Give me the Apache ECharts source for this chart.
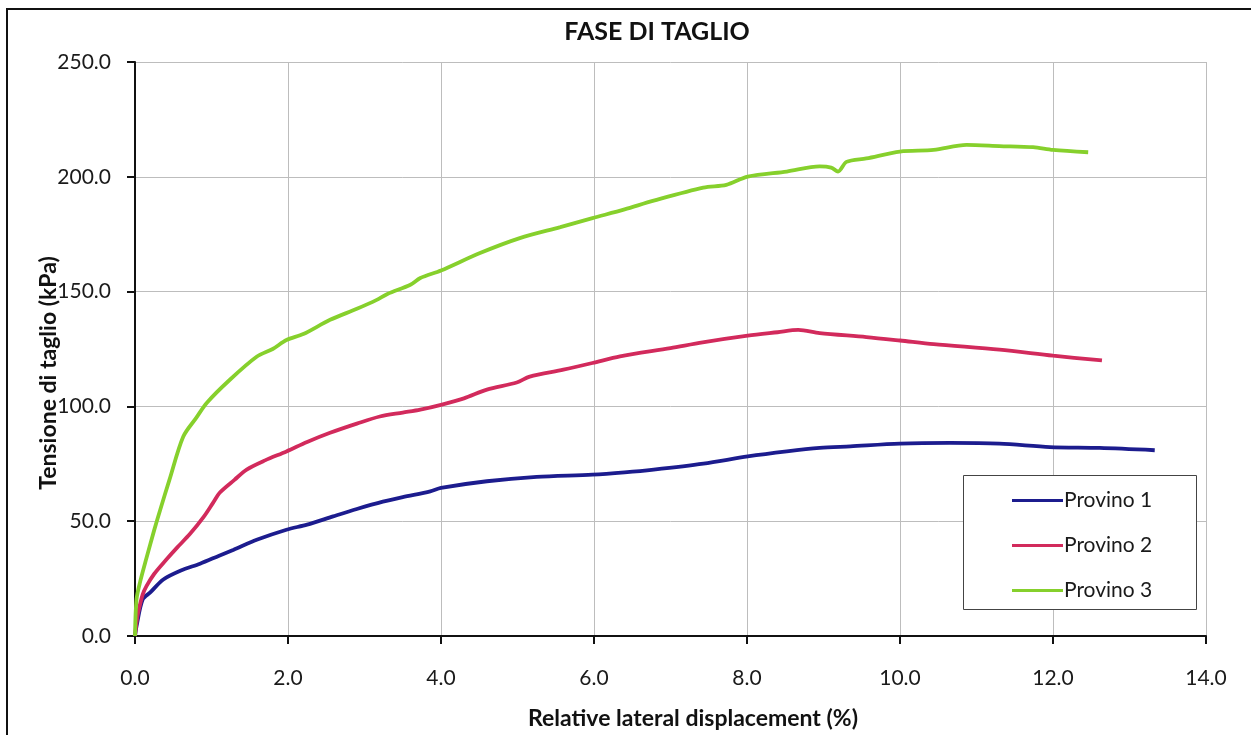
<!DOCTYPE html>
<html>
<head>
<meta charset="utf-8">
<script src="https://cdn.jsdelivr.net/npm/echarts@6/dist/echarts.min.js"></script>
<style>
html,body{margin:0;padding:0;background:#fff;}
#chart{width:1251px;height:735px;}
</style>
</head>
<body>
<div id="chart"></div>
<script>
const titleText = 'FASE DI TAGLIO';
const xAxisName = 'Relative lateral displacement (%)';
const yAxisName = 'Tensione di taglio (kPa)';
const seriesNames = ['Provino 1', 'Provino 2', 'Provino 3'];
const seriesColors = ['#1c1c8e', '#d22a5c', '#86d02c'];

const provino1 = [[0,0],[0.02,4.3],[0.1,15.9],[0.2,19],[0.37,24.6],[0.6,28.5],[0.85,31.5],[1.1,35],[1.29,37.6],[1.6,42],[1.98,46.3],[2.25,48.5],[2.59,52.1],[2.9,55.3],[3.24,58.5],[3.5,60.5],[3.86,63],[4.0,64.5],[4.6,67.4],[5.25,69.3],[5.98,70.3],[6.4,71.3],[6.78,72.5],[7.43,75.1],[8.01,78.2],[8.52,80.4],[8.95,81.9],[9.35,82.6],[10.0,83.8],[10.65,84.1],[11.3,83.8],[11.96,82.3],[12.61,81.9],[13.33,80.9]];

const provino2 = [[0,0],[0.02,6],[0.04,10],[0.1,18],[0.15,21.7],[0.25,27],[0.41,33.3],[0.55,38.5],[0.72,44.5],[0.9,52],[1.02,58],[1.11,62.5],[1.3,68],[1.46,72.5],[1.7,76.5],[1.98,80.4],[2.25,84.5],[2.55,88.5],[2.9,92.5],[3.2,95.6],[3.5,97.3],[3.73,98.6],[4.0,100.7],[4.3,103.5],[4.6,107.3],[4.99,110.4],[5.16,113],[5.6,116],[5.98,118.9],[6.34,121.8],[7.0,125.4],[7.42,127.9],[8.01,130.8],[8.4,132.3],[8.67,133.3],[8.95,131.9],[9.56,130.2],[10.0,128.7],[10.44,127.1],[11.3,124.7],[12.0,122.1],[12.64,120.0]];

const provino3 = [[0,0],[0.02,16],[0.07,24],[0.15,34],[0.25,46],[0.33,55],[0.45,68],[0.63,86.8],[0.8,95],[0.94,101.6],[1.24,111.6],[1.59,121.6],[1.8,125],[1.98,128.9],[2.2,131.5],[2.55,137.7],[2.9,142.5],[3.16,146.4],[3.3,149],[3.6,153],[3.73,155.9],[4.0,159.2],[4.51,166.8],[5.03,173.3],[5.56,178.1],[5.98,182],[6.4,185.8],[6.78,189.6],[7.43,195.3],[7.73,196.5],[8.01,200.1],[8.52,202.3],[8.95,204.5],[9.1,204],[9.19,202.3],[9.3,206.5],[9.56,208],[10.0,211],[10.44,211.7],[10.87,213.9],[11.3,213.4],[11.74,212.9],[12.0,211.7],[12.46,210.7]];

const seriesData = [provino1, provino2, provino3];

const FONT = 'Lato, "Open Sans", sans-serif';
const chart = echarts.init(document.getElementById('chart'), null, {renderer: 'canvas'});

const option = {
  backgroundColor: '#ffffff',
  animation: false,
  grid: {left: 135, top: 62, right: 45, bottom: 99, containLabel: false},
  xAxis: {
    type: 'value', min: 0, max: 14, interval: 2,
    axisLine: {show: true, onZero: false, lineStyle: {color: '#111', width: 2}},
    axisTick: {show: true, inside: false, length: 8, lineStyle: {color: '#111', width: 2}},
    axisLabel: {margin: 32, fontSize: 21, color: '#1a1a1a', fontFamily: FONT,
      formatter: v => v.toFixed(1)},
    splitLine: {show: true, lineStyle: {color: '#bdbdbd', width: 1}}
  },
  yAxis: {
    type: 'value', min: 0, max: 250, interval: 50,
    axisLine: {show: true, onZero: false, lineStyle: {color: '#111', width: 2}},
    axisTick: {show: true, inside: false, length: 8, lineStyle: {color: '#111', width: 2}},
    axisLabel: {margin: 24, fontSize: 21, color: '#1a1a1a', fontFamily: FONT,
      formatter: v => v.toFixed(1)},
    splitLine: {show: true, lineStyle: {color: '#bdbdbd', width: 1}}
  },
  legend: {
    orient: 'vertical', left: 1007, top: 485,
    icon: 'rect', itemWidth: 51, itemHeight: 3, itemGap: 24,
    textStyle: {fontSize: 21, color: '#1a1a1a', fontFamily: FONT, padding: [0,0,0,-4], lineHeight: 21},
    data: seriesNames
  },
  graphic: [
    {type: 'rect', z: -10, shape: {x: 7, y: 9, width: 1300, height: 800},
      style: {fill: 'none', stroke: '#111', lineWidth: 2}},
    {type: 'rect', z: 1, shape: {x: 963.5, y: 475.5, width: 233, height: 134},
      style: {fill: '#fff', stroke: '#444', lineWidth: 1}},
    {type: 'text', z: 10, style: {text: titleText, x: 657, y: 32, align: 'center', verticalAlign: 'middle',
      font: 'bold 25px ' + FONT, fill: '#111'}},
    {type: 'text', z: 10, style: {text: xAxisName, x: 693, y: 719, align: 'center', verticalAlign: 'middle',
      font: 'bold 23px ' + FONT, fill: '#111'}},
    {type: 'text', z: 10, x: 49, y: 373, rotation: Math.PI/2, style: {text: yAxisName, x: 0, y: 0, align: 'center', verticalAlign: 'middle',
      font: 'bold 23px ' + FONT, fill: '#111'}}
  ],
  series: seriesData.map((d, i) => ({
    name: seriesNames[i], type: 'line', data: d, showSymbol: false, symbol: 'none',
    smooth: 0.3, z: 3,
    lineStyle: {color: seriesColors[i], width: 3.8},
    itemStyle: {color: seriesColors[i]}
  }))
};
chart.setOption(option);
</script>
</body>
</html>
